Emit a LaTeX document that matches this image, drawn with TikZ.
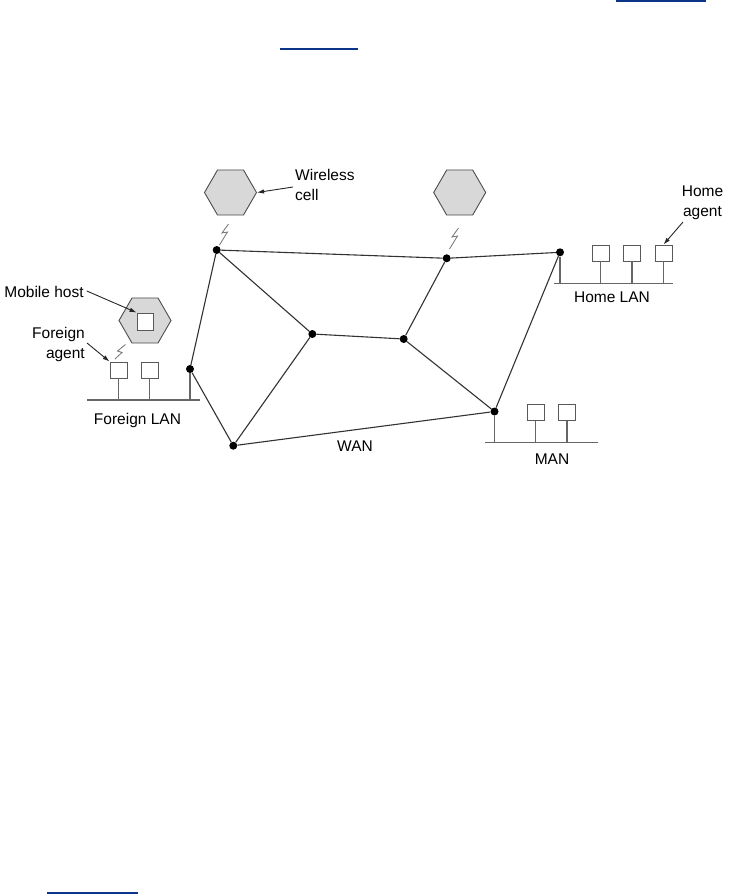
\documentclass[tikz,border=0pt]{standalone}
\usepackage{fontspec}
\setmainfont{Liberation Sans}
\usetikzlibrary{shapes.geometric,arrows.meta}
\definecolor{linkblue}{RGB}{12,52,138}
\definecolor{edgecol}{RGB}{50,50,50}
\definecolor{hexfill}{RGB}{216,216,216}
\tikzset{
  router/.style={circle,fill=black,inner sep=0pt,minimum size=8pt},
  cellhex/.style={regular polygon,regular polygon sides=6,minimum size=52pt,inner sep=0pt,draw=black!70,fill=hexfill,line width=0.9pt},
  hostbox/.style={rectangle,draw=black!65,fill=white,line width=0.9pt,minimum width=17pt,minimum height=16pt,inner sep=0pt},
  link/.style={draw=edgecol,line width=1.1pt},
  bus/.style={draw=black!60,line width=1.1pt},
  stem/.style={draw=black!60,line width=1.1pt},
  lbl/.style={font=\fontsize{15.5}{20}\selectfont,text=black,inner sep=1pt},
  callout/.style={draw=black!85,line width=0.9pt,-{Latex[length=7pt,width=4.5pt]}},
  boltline/.style={draw=black!55,line width=0.8pt},
}
\begin{document}
\begin{tikzpicture}[x=1pt,y=-1pt]
\useasboundingbox (0,0) rectangle (733,894);
% stray link underlines
\fill[linkblue] (616,0) rectangle (706,2.2);
\fill[linkblue] (280,48.3) rectangle (358,49.7);
\fill[linkblue] (47,892.3) rectangle (138,893.7);

% routers
\node[router] (A) at (216.7,250) {};
\node[router] (B) at (446.7,258.3) {};
\node[router] (C) at (312.3,334) {};
\node[router] (D) at (403.7,339) {};
\node[router] (E) at (190,369) {};
\node[router] (F) at (233.3,445.7) {};
\node[router] (G) at (494.5,411.5) {};
\node[router] (H) at (560,252.3) {};

% WAN links
\draw[link] (A) -- (B);
\draw[link] (B) -- (H);
\draw[link] (A) -- (C);
\draw[link] (A) -- (E);
\draw[link] (E) -- (F);
\draw[link] (F) -- (C);
\draw[link] (C) -- (D);
\draw[link] (D) -- (B);
\draw[link] (D) -- (G);
\draw[link] (F) -- (G);
\draw[link] (G) -- (H);

% wireless cells
\node[cellhex] (hexA) at (230.5,192.5) {};
\node[cellhex] (hexB) at (459.7,192.5) {};
\node[cellhex] (hexM) at (145,320.5) {};
\node[hostbox,minimum width=16pt,minimum height=17pt] (msq) at (145,321.5) {};

% lightning bolts
\draw[boltline] (228.5,224) -- (222,233) -- (227.5,232) -- (219.5,245);
\draw[boltline] (458.5,228) -- (452,237) -- (457.5,236) -- (449.5,249);
\draw[boltline] (125.5,344.5) -- (117.5,351) -- (122,352.5) -- (115,359);

% Foreign LAN
\coordinate (fbL) at (87,400);
\coordinate (fbR) at (200,400);
\draw[bus] (fbL) -- (fbR);
\node[hostbox] (f1) at (118.5,370) {};
\node[hostbox] (f2) at (149.5,370) {};
\draw[stem] (f1.south) -- (f1.south |- fbL);
\draw[stem] (f2.south) -- (f2.south |- fbL);
\draw[stem] (E) -- (E |- fbL);

% Home LAN
\coordinate (hbL) at (554,283.3);
\coordinate (hbR) at (673,283.3);
\draw[bus] (hbL) -- (hbR);
\node[hostbox] (h1) at (600.5,253) {};
\node[hostbox] (h2) at (632,253) {};
\node[hostbox] (h3) at (663.5,253) {};
\draw[stem] (h1.south) -- (h1.south |- hbL);
\draw[stem] (h2.south) -- (h2.south |- hbL);
\draw[stem] (h3.south) -- (h3.south |- hbL);
\draw[stem] (H) -- (H |- hbL);

% MAN
\coordinate (mbL) at (485,442.7);
\coordinate (mbR) at (598,442.7);
\draw[bus] (mbL) -- (mbR);
\node[hostbox] (m1) at (535.5,412.3) {};
\node[hostbox] (m2) at (567,412.3) {};
\draw[stem] (m1.south) -- (m1.south |- mbL);
\draw[stem] (m2.south) -- (m2.south |- mbL);
\draw[stem] (G) -- (G |- mbL);

% labels
\node[lbl,align=left,anchor=west] (wc) at (294,185) {Wireless\\cell};
\node[lbl] (mh) at (44,292) {Mobile host};
\node[lbl,align=right,anchor=east] (fa) at (86,344) {Foreign\\agent};
\node[lbl,align=center] (ha) at (702.5,203) {Home\\agent};
\node[lbl] (flan) at (137.5,420) {Foreign LAN};
\node[lbl] (hlan) at (612,297) {Home LAN};
\node[lbl] (man) at (552,459) {MAN};
\node[lbl] (wan) at (355,446) {WAN};

% callout arrows
\draw[callout] ([xshift=-1pt,yshift=-2pt]wc.west) -- (hexA.east);
\draw[callout] ([xshift=2pt,yshift=1pt]mh.east) -- (msq.north west);
\draw[callout] ([xshift=1pt,yshift=1pt]fa.east) -- (f1.north west);
\draw[callout] (683,222) -- (h3.north);
\end{tikzpicture}
\end{document}
